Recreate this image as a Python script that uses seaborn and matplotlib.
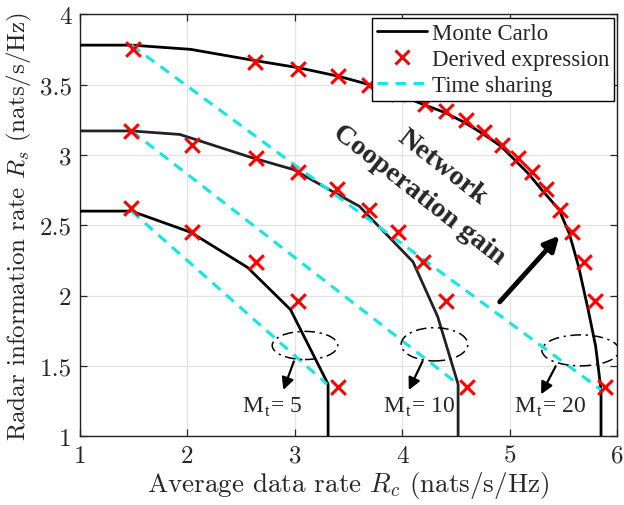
import numpy as np
import pandas as pd
import matplotlib
matplotlib.use("Agg")
import matplotlib.pyplot as plt
import seaborn as sns
from matplotlib.patches import Ellipse
from matplotlib.lines import Line2D

# Monte Carlo curves (rate region boundaries)
mc5_x = [1.0, 1.48, 2.03, 2.56, 2.96, 3.31, 3.31]
mc5_y = [2.60, 2.60, 2.45, 2.20, 1.90, 1.37, 1.0]
mc10_x = [1.0, 1.48, 1.93, 2.60, 2.99, 3.35, 3.60, 4.10, 4.33, 4.52, 4.52]
mc10_y = [3.17, 3.17, 3.145, 2.98, 2.895, 2.74, 2.635, 2.24, 1.85, 1.37, 1.0]
mc20_x = [1.0, 1.48, 2.03, 2.63, 3.03, 3.40, 3.69, 3.96, 4.19, 4.40, 4.58, 4.75,
          4.92, 5.04, 5.17, 5.30, 5.46, 5.555, 5.64, 5.73, 5.80, 5.85, 5.85]
mc20_y = [3.78, 3.78, 3.75, 3.67, 3.62, 3.56, 3.50, 3.43, 3.36, 3.30, 3.23, 3.15,
          3.06, 2.97, 2.87, 2.75, 2.61, 2.44, 2.21, 1.90, 1.64, 1.33, 1.0]

# derived expression markers
de5_x = [1.48, 2.04, 2.64, 3.03, 3.40]
de5_y = [2.62, 2.45, 2.24, 1.96, 1.35]
de10_x = [1.48, 2.04, 2.64, 3.03, 3.39, 3.69, 3.96, 4.19, 4.41, 4.60]
de10_y = [3.17, 3.07, 2.98, 2.88, 2.76, 2.61, 2.45, 2.24, 1.96, 1.35]
de20_x = [1.49, 2.63, 3.03, 3.40, 3.69, 3.96, 4.21, 4.41, 4.59, 4.76, 4.93,
          5.08, 5.21, 5.34, 5.47, 5.58, 5.69, 5.79, 5.89]
de20_y = [3.75, 3.66, 3.61, 3.56, 3.50, 3.43, 3.36, 3.31, 3.25, 3.16, 3.07,
          2.98, 2.88, 2.76, 2.61, 2.45, 2.24, 1.96, 1.35]

# time sharing lines
ts5_x = [1.48, 3.30]
ts5_y = [2.60, 1.37]
ts10_x = [1.48, 4.52]
ts10_y = [3.17, 1.37]
ts20_x = [1.48, 5.85]
ts20_y = [3.78, 1.33]

mt_labels = ["5", "10", "20"]

sns.set_style("ticks")
plt.rcParams["mathtext.fontset"] = "custom"
plt.rcParams["mathtext.rm"] = "Liberation Serif"
plt.rcParams["mathtext.it"] = "cmmi10"
plt.rcParams["axes.formatter.use_mathtext"] = True

fig = plt.figure(figsize=(6.24, 5.06), dpi=100)
ax = fig.add_axes([0.128, 0.136, 0.861, 0.834])

CYAN = "#12E6E6"
DASH = (0, (3.4, 2.5))
cm_font = "cmr10"
tnr = "Liberation Serif"

# Monte Carlo
for xs, ys, c in [(mc5_x, mc5_y, "black"), (mc10_x, mc10_y, "#222222"),
                  (mc20_x, mc20_y, "black")]:
    sns.lineplot(x=xs, y=ys, ax=ax, color=c, lw=2.0, sort=False,
                 estimator=None, zorder=3)

# time sharing
for xs, ys in [(ts5_x, ts5_y), (ts10_x, ts10_y), (ts20_x, ts20_y)]:
    sns.lineplot(x=xs, y=ys, ax=ax, color=CYAN, lw=2.2, sort=False,
                 estimator=None, linestyle=DASH, zorder=4)

# derived expression
for xs, ys in [(de5_x, de5_y), (de10_x, de10_y), (de20_x, de20_y)]:
    sns.scatterplot(x=xs, y=ys, ax=ax, marker="x", color="red", s=110,
                    linewidth=2.2, zorder=5)

# ellipses + labels
ell = [(3.095, 1.645, 0.61, 0.20), (4.30, 1.653, 0.62, 0.236),
       (5.66, 1.61, 0.72, 0.22)]
arrows = [((3.00, 1.55), (2.885, 1.31)), ((4.20, 1.55), (4.05, 1.31)),
          ((5.44, 1.515), (5.28, 1.28))]
txt_x = [2.79, 4.16, 5.38]
for (cx, cy, w, h), (p0, p1), tx, lab in zip(ell, arrows, txt_x, mt_labels):
    ax.add_patch(Ellipse((cx, cy), w, h, fill=False, color="black", lw=1.1,
                         linestyle=(0, (7, 3, 1.5, 3)), zorder=6))
    ax.annotate("", xy=p1, xytext=p0,
                arrowprops=dict(arrowstyle="-|>", color="black", lw=1.6,
                                mutation_scale=18), zorder=6)
    ax.text(tx, 1.21, r"$\mathrm{M}_\mathrm{t}$= " + lab, fontsize=17,
            family=tnr, ha="center", va="center", zorder=6)

# network cooperation gain
ax.annotate("", xy=(5.48, 2.44), xytext=(4.89, 1.94),
            arrowprops=dict(arrowstyle="-|>", color="black", lw=3.5,
                            mutation_scale=22), zorder=6)
ax.text(4.37, 2.92, "Network", fontsize=20.5, fontweight="bold", family=tnr,
        rotation=-38, ha="center", va="center", rotation_mode="anchor")
ax.text(4.16, 2.72, "Cooperation gain", fontsize=20.5, fontweight="bold",
        family=tnr, rotation=-38, ha="center", va="center",
        rotation_mode="anchor")

ax.set_xlim(1, 6)
ax.set_ylim(1, 4)
ax.set_xticks([1, 2, 3, 4, 5, 6])
ax.set_yticks([1, 1.5, 2, 2.5, 3, 3.5, 4])
ax.set_xticklabels(["1", "2", "3", "4", "5", "6"], family=cm_font, fontsize=18)
ax.set_yticklabels(["1", "1.5", "2", "2.5", "3", "3.5", "4"], family=cm_font,
                   fontsize=18)
ax.grid(True, color="#E3E3E3", lw=0.9, zorder=0)
ax.set_axisbelow(True)
ax.tick_params(direction="in", top=True, right=True, length=5, width=0.9,
               pad=6)
for sp in ax.spines.values():
    sp.set_linewidth(1.0)
    sp.set_color("#222222")

ax.set_xlabel(r"Average data rate $R_c$ (nats/s/Hz)", family=cm_font,
              fontsize=19.5, labelpad=2)
ax.set_ylabel(r"Radar information rate $R_s$ (nats/s/Hz)", family=cm_font,
              fontsize=18, labelpad=4)

handles = [Line2D([], [], color="black", lw=2.0),
           Line2D([], [], color="red", marker="x", ls="none", ms=10.5, mew=2.2),
           Line2D([], [], color=CYAN, lw=2.2, ls=DASH)]
leg = ax.legend(handles, ["Monte Carlo", "Derived expression", "Time sharing"],
                loc="upper right", bbox_to_anchor=(0.9935, 0.99),
                prop={"family": tnr, "size": 16.5}, frameon=True,
                fancybox=False, framealpha=1, edgecolor="black",
                borderpad=0.2, labelspacing=0.22, handlelength=2.2,
                handletextpad=0.2, borderaxespad=0)
leg.get_frame().set_linewidth(1.0)
leg.set_zorder(10)

fig.savefig("out.png", dpi=100)
